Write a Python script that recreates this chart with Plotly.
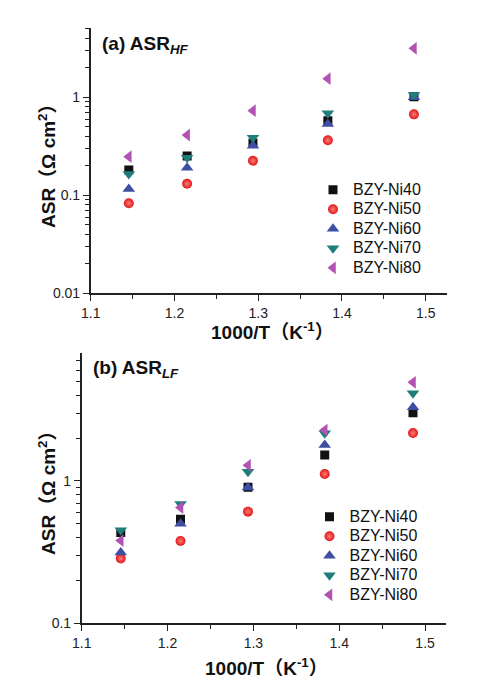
import plotly.graph_objects as go

x_vals = [1.1455, 1.2151, 1.2937, 1.3831, 1.4859]
series_names = ["BZY-Ni40", "BZY-Ni50", "BZY-Ni60", "BZY-Ni70", "BZY-Ni80"]

hf_ni40 = [0.181, 0.252, 0.34, 0.577, 1.01]
hf_ni50 = [0.083, 0.131, 0.225, 0.364, 0.67]
hf_ni60 = [0.116, 0.191, 0.321, 0.534, 1.0]
hf_ni70 = [0.165, 0.242, 0.387, 0.687, 1.055]
hf_ni80 = [0.248, 0.412, 0.731, 1.55, 3.16]

lf_ni40 = [0.435, 0.538, 0.902, 1.52, 3.02]
lf_ni50 = [0.285, 0.379, 0.609, 1.12, 2.17]
lf_ni60 = [0.315, 0.50, 0.90, 1.79, 3.29]
lf_ni70 = [0.45, 0.689, 1.16, 2.16, 4.13]
lf_ni80 = [0.381, 0.65, 1.29, 2.28, 4.93]

x_ticks = [1.1, 1.2, 1.3, 1.4, 1.5]
hf_ticks = [0.01, 0.1, 1]
lf_ticks = [0.1, 1]

W, H = 479, 690
OFF = 8  # page body margin
FONT = "Liberation Sans, Arial, Noto Sans CJK SC, sans-serif"

styles = [
    dict(symbol="square", color="#111111", size=9),
    dict(symbol="circle", color="#e01818", size=10,
         gradient=dict(type="radial", color="#ff7a7a")),
    dict(symbol="triangle-up", color="#3d4ea3", size=11),
    dict(symbol="triangle-down", color="#1f7d7b", size=11),
    dict(symbol="triangle-left", color="#b352b5", size=11),
]

fig = go.Figure()
hf = [hf_ni40, hf_ni50, hf_ni60, hf_ni70, hf_ni80]
lf = [lf_ni40, lf_ni50, lf_ni60, lf_ni70, lf_ni80]
for name, ys, st in zip(series_names, hf, styles):
    fig.add_trace(go.Scatter(x=x_vals, y=ys, mode="markers",
                             name=f'<span style="font-size:16px">{name}</span>',
                             marker=dict(line=dict(width=0), **st),
                             xaxis="x", yaxis="y", legend="legend"))
for name, ys, st in zip(series_names, lf, styles):
    fig.add_trace(go.Scatter(x=x_vals, y=ys, mode="markers",
                             name=f'<span style="font-size:16px">{name}</span>',
                             marker=dict(line=dict(width=0), **st),
                             xaxis="x2", yaxis="y2", legend="legend2"))

def px_x(p):
    return (p - OFF) / W

def px_y(p):
    return 1 - (p - OFF) / H

def log_minor(lo_exp, hi_exp):
    vals = []
    for e in range(lo_exp, hi_exp + 1):
        for m in range(2, 10):
            vals.append(m * 10 ** e)
    return vals

axis_common = dict(showline=True, linecolor="#222222", linewidth=1.5,
                   ticks="outside", ticklen=6, tickwidth=1.3, tickcolor="#222222",
                   showgrid=False, zeroline=False, mirror=False, automargin=False,
                   tickfont=dict(family=FONT, size=14, color="#222222"))
minor_common = dict(ticks="outside", ticklen=4, tickwidth=1.1, tickcolor="#222222", showgrid=False)

fig.update_layout(
    width=W, height=H,
    margin=dict(l=0, r=0, t=0, b=0, pad=0, autoexpand=False),
    paper_bgcolor="white", plot_bgcolor="white",
    xaxis=dict(domain=[px_x(90.7), px_x(446.7)], range=[1.1, 1.525], anchor="y",
               tickvals=x_ticks, ticktext=[f"{v:.1f}" for v in x_ticks],
               minor=dict(tickvals=[1.15, 1.25, 1.35, 1.45], **minor_common),
               **axis_common),
    yaxis=dict(domain=[px_y(293.3), px_y(28)], type="log", range=[-2, 0.707], anchor="x",
               tickvals=hf_ticks, ticktext=[str(v) for v in hf_ticks],
               minor=dict(tickvals=log_minor(-2, 0), **minor_common),
               **axis_common),
    xaxis2=dict(domain=[px_x(81.7), px_x(445.7)], range=[1.1, 1.524], anchor="y2",
                tickvals=x_ticks, ticktext=[f"{v:.1f}" for v in x_ticks],
                minor=dict(tickvals=[1.15, 1.25, 1.35, 1.45], **minor_common),
                **axis_common),
    yaxis2=dict(domain=[px_y(623.3), px_y(353.3)], type="log", range=[-1, 0.897], anchor="x2",
                tickvals=lf_ticks, ticktext=[str(v) for v in lf_ticks],
                minor=dict(tickvals=log_minor(-1, 0), **minor_common),
                **axis_common),
    legend=dict(x=px_x(313), y=px_y(175), xanchor="left", yanchor="top",
                bgcolor="rgba(0,0,0,0)", font=dict(family=FONT, size=12.7, color="#111111")),
    legend2=dict(x=px_x(309.5), y=px_y(502), xanchor="left", yanchor="top",
                 bgcolor="rgba(0,0,0,0)", font=dict(family=FONT, size=12.7, color="#111111")),
    showlegend=True,
)

ann_font = dict(family=FONT, size=19, color="#111111")
fig.add_annotation(x=px_x(100), y=px_y(45), xref="paper", yref="paper", xanchor="left", yanchor="middle",
                   text="<b>(a) ASR<sub><i>HF</i></sub></b>", showarrow=False, font=ann_font)
fig.add_annotation(x=px_x(91), y=px_y(369), xref="paper", yref="paper", xanchor="left", yanchor="middle",
                   text="<b>(b) ASR<sub><i>LF</i></sub></b>", showarrow=False, font=ann_font)
for yc, xc in [(331, 272), (667, 266)]:
    fig.add_annotation(x=px_x(xc), y=px_y(yc), xref="paper", yref="paper", xanchor="center", yanchor="middle",
                       text="<b>1000/T（K<sup>-1</sup>）</b>", showarrow=False, font=ann_font)
for yc in [161, 488]:
    fig.add_annotation(x=px_x(47), y=px_y(yc), xref="paper", yref="paper", xanchor="center", yanchor="middle",
                       text="<b>ASR（Ω cm<sup>2</sup>）</b>", textangle=-90, showarrow=False, font=ann_font)

fig.write_html("out.html")
